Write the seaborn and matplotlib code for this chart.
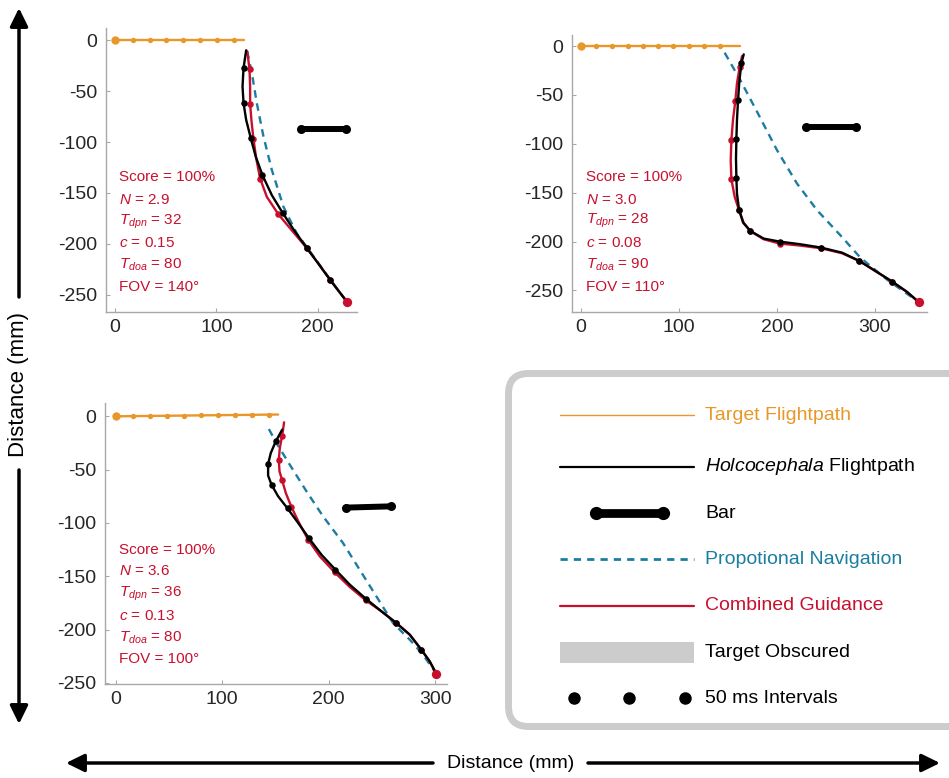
import matplotlib
matplotlib.use("Agg")
import matplotlib.pyplot as plt
import seaborn as sns
from matplotlib.patches import FancyBboxPatch, Rectangle

# ---------------- data ----------------
# Panel 1
p1_tgt_x = [0, 18, 34, 50, 67, 84, 101, 117]
p1_tgt_y = [0, 0, 0, 0, 0, 0, 0, 0]
p1_tgt_line_x = [0, 127]
p1_tgt_line_y = [0, 0]
p1_holo_x = [129.5, 126.9, 125.9, 126.9, 129.5, 134.1, 139.0, 145.6, 154.9, 165.4, 176.9, 189.5, 201.0, 212.5, 229.0]
p1_holo_y = [-9.9, -27.3, -45.4, -61.8, -78.3, -96.4, -114.5, -132.6, -152.3, -169.4, -186.8, -204.3, -219.7, -235.5, -256.9]
p1_holo_dot_x = [126.9, 126.9, 134.1, 145.6, 165.4, 189.5, 212.5]
p1_holo_dot_y = [-27.3, -61.8, -96.4, -132.6, -169.4, -204.3, -235.5]
p1_cg_x = [130.5, 132.8, 133.4, 133.4, 134.8, 136.7, 139.4, 143.3, 149.9, 161.4, 174.6, 189.5, 201.0, 212.5, 229.0]
p1_cg_y = [-10.9, -28.3, -45.4, -62.5, -79.9, -97.0, -116.1, -135.9, -153.9, -171.1, -186.8, -204.3, -219.7, -235.5, -256.9]
p1_cg_dot_x = [132.8, 133.4, 136.7, 143.3, 161.4, 189.5, 212.5]
p1_cg_dot_y = [-28.3, -62.5, -97.0, -135.9, -171.1, -204.3, -235.5]
p1_pn_x = [130.5, 135.1, 140.0, 146.6, 154.9, 166.4, 179.6, 189.5, 202.6, 215.8, 229.0]
p1_pn_y = [-10.9, -32.2, -61.8, -94.7, -127.6, -163.8, -190.1, -203.3, -221.4, -239.5, -256.9]
p1_bar_x = [183.5, 228.3]
p1_bar_y = [-87.5, -87.5]
p1_params = ["Score = 100%", "$N$ = 2.9", "$T_{dpn}$ = 32", "$c$ = 0.15", "$T_{doa}$ = 80", "FOV = 140°"]

# Panel 2
p2_tgt_x = [0, 15.7, 31.7, 47.7, 63.3, 79.0, 94.3, 110.0, 125.6, 141.6]
p2_tgt_y = [0, 0, 0, 0, 0, 0, 0, 0, 0, 0]
p2_tgt_line_x = [0, 162.7]
p2_tgt_line_y = [0, 0]
p2_holo_x = [166.2, 163.8, 161.7, 160.4, 159.3, 158.7, 158.3, 158.7, 159.3, 161.4, 165.5, 173.0, 186.6, 202.9, 224.0, 245.1, 266.6, 284.3, 302.3, 318.0, 333.0, 344.9]
p2_holo_y = [-8.5, -17.7, -36.5, -55.3, -75.8, -95.2, -115.0, -134.8, -150.9, -167.2, -180.5, -189.1, -196.9, -200.0, -202.7, -206.1, -211.3, -219.8, -231.1, -241.0, -251.5, -261.8]
p2_holo_dot_x = [163.8, 160.4, 158.7, 158.7, 161.4, 173.0, 202.9, 245.1, 284.3, 318.0]
p2_holo_dot_y = [-17.7, -55.3, -95.2, -134.8, -167.2, -189.1, -200.0, -206.1, -219.8, -241.0]
p2_cg_x = [164.5, 162.1, 159.3, 157.6, 155.2, 153.6, 152.9, 153.6, 157.0, 161.4, 166.2, 173.0, 186.6, 202.9, 224.0, 245.1, 266.6, 284.3, 302.3, 318.0, 333.0, 344.9]
p2_cg_y = [-10.2, -21.2, -38.2, -56.3, -75.8, -96.2, -116.7, -136.2, -154.3, -167.9, -180.9, -189.4, -197.6, -202.0, -204.1, -206.8, -211.9, -219.8, -231.1, -241.0, -251.5, -261.8]
p2_cg_dot_x = [162.1, 157.6, 153.6, 153.6, 161.4, 173.0, 202.9, 245.1, 284.3, 318.0]
p2_cg_dot_y = [-21.2, -56.3, -96.2, -136.2, -167.9, -189.4, -202.0, -206.8, -219.8, -241.0]
p2_pn_x = [146.7, 162.7, 179.8, 200.2, 220.6, 241.1, 264.9, 285.3, 312.6, 344.9]
p2_pn_y = [-6.8, -34.8, -67.2, -106.5, -140.6, -167.9, -193.5, -216.4, -238.9, -261.8]
p2_bar_x = [229.8, 281.2]
p2_bar_y = [-82.9, -82.9]
p2_params = ["Score = 100%", "$N$ = 3.0", "$T_{dpn}$ = 28", "$c$ = 0.08", "$T_{doa}$ = 90", "FOV = 110°"]

# Panel 3
p3_tgt_x = [0, 16, 32, 48, 64, 80, 96, 112, 128, 144]
p3_tgt_y = [0, 0.2, 0.3, 0.5, 0.7, 0.9, 1.0, 1.2, 1.4, 1.6]
p3_tgt_line_x = [0, 152.5]
p3_tgt_line_y = [0, 1.7]
p3_holo_x = [156.3, 150.3, 145.6, 143.1, 143.1, 146.3, 152.5, 161.3, 171.3, 181.3, 193.1, 206.3, 219.7, 234.7, 249.4, 263.4, 276.0, 286.9, 294.7, 300.9]
p3_holo_y = [-12.5, -23.4, -34.4, -44.7, -55.6, -64.1, -75.0, -86.3, -100.0, -114.1, -129.7, -143.8, -157.8, -170.9, -182.8, -193.8, -204.7, -218.8, -229.7, -241.3]
p3_holo_dot_x = [150.3, 143.1, 146.3, 161.3, 181.3, 206.3, 234.7, 263.4, 286.9]
p3_holo_dot_y = [-23.4, -44.7, -64.1, -86.3, -114.1, -143.8, -170.9, -193.8, -218.8]
p3_cg_x = [158.1, 156.3, 154.1, 153.1, 153.8, 156.3, 159.7, 165.0, 172.2, 180.6, 191.6, 205.6, 219.7, 234.7, 249.4, 263.4, 276.0, 286.9, 294.7, 300.9]
p3_cg_y = [-5.6, -18.1, -29.7, -40.6, -51.6, -60.0, -71.9, -85.0, -100.0, -115.6, -131.3, -146.3, -160.0, -172.5, -182.8, -193.8, -204.7, -218.8, -229.7, -241.3]
p3_cg_dot_x = [156.3, 153.1, 156.3, 165.0, 180.6, 205.6, 234.7, 263.4, 286.9]
p3_cg_dot_y = [-18.1, -40.6, -60.0, -85.0, -115.6, -146.3, -172.5, -193.8, -218.8]
p3_pn_x = [143.8, 150.9, 163.4, 179.1, 194.7, 213.4, 229.0, 244.7, 260.3, 276.0, 288.4, 300.9]
p3_pn_y = [-11.9, -25.0, -45.3, -70.3, -93.8, -118.8, -143.8, -168.8, -193.8, -209.4, -223.4, -241.3]
p3_bar_x = [215.9, 258.8]
p3_bar_y = [-85.6, -84.4]
p3_params = ["Score = 100%", "$N$ = 3.6", "$T_{dpn}$ = 36", "$c$ = 0.13", "$T_{doa}$ = 80", "FOV = 100°"]

x_ticks_p1 = [0, 100, 200]
x_ticks_p23 = [0, 100, 200, 300]
y_ticks = [0, -50, -100, -150, -200, -250]

legend_labels = ["Target Flightpath", r"$\mathit{Holcocephala}$ Flightpath", "Bar",
                 "Propotional Navigation", "Combined Guidance", "Target Obscured", "50 ms Intervals"]
axis_label = "Distance (mm)"

# ---------------- style ----------------
sns.set_theme(style="white")
plt.rcParams["font.family"] = ["Liberation Sans", "DejaVu Sans"]
plt.rcParams["mathtext.fontset"] = "custom"
plt.rcParams["mathtext.rm"] = "Liberation Sans"
plt.rcParams["mathtext.it"] = "Liberation Sans:italic"
plt.rcParams["mathtext.bf"] = "Liberation Sans:bold"

ORANGE = "#E8982A"
RED = "#C8102E"
BLUE = "#1B7DA1"
LGRAY = "#CCCCCC"
SPINE = "#A8A8A8"

W, H = 949, 778
fig = plt.figure(figsize=(W / 100, H / 100), dpi=100)

# overlay for arrows / legend, in pixel units
ov = fig.add_axes([0, 0, 1, 1])
ov.set_xlim(0, W)
ov.set_ylim(H, 0)
ov.axis("off")


def px_axes(l, t, r, b):
    ax = fig.add_axes([l / W, 1 - b / H, (r - l) / W, (b - t) / H])
    ax.set_facecolor("none")
    return ax


def draw_panel(ax, tgt_x, tgt_y, tl_x, tl_y, hx, hy, hdx, hdy, cx, cy, cdx, cdy,
               pnx, pny, bx, by, params, txt_x, txt_ys, xlim, ylim, xticks):
    sns.lineplot(x=pnx, y=pny, sort=False, estimator=None, color=BLUE, lw=1.7,
                 linestyle=(0, (3.2, 2.4)), ax=ax, zorder=2)
    sns.lineplot(x=cx, y=cy, sort=False, estimator=None, color=RED, lw=1.7, ax=ax, zorder=3)
    sns.scatterplot(x=cdx, y=cdy, color=RED, s=22, linewidth=0, ax=ax, zorder=3.5)
    sns.lineplot(x=hx, y=hy, sort=False, estimator=None, color="black", lw=1.7, ax=ax, zorder=4)
    sns.scatterplot(x=hdx, y=hdy, color="black", s=22, linewidth=0, ax=ax, zorder=4.5)
    sns.scatterplot(x=[cx[-1]], y=[cy[-1]], color=RED, s=45, linewidth=0, ax=ax, zorder=6)
    # target
    sns.lineplot(x=tl_x, y=tl_y, sort=False, estimator=None, color=ORANGE, lw=1.7, ax=ax, zorder=3)
    sns.scatterplot(x=tgt_x[1:], y=tgt_y[1:], color=ORANGE, s=15, linewidth=0, ax=ax, zorder=4)
    sns.scatterplot(x=tgt_x[:1], y=tgt_y[:1], color=ORANGE, s=36, linewidth=0, ax=ax, zorder=4)
    # bar
    sns.lineplot(x=bx, y=by, sort=False, estimator=None, color="black", lw=4.3,
                 marker="o", markersize=6.5, markeredgewidth=0, solid_capstyle="round",
                 ax=ax, zorder=5)
    for s, yv in zip(params, txt_ys):
        ax.text(txt_x, yv, s, color=RED, fontsize=11, ha="left", va="center")

    ax.set_xlim(*xlim)
    ax.set_ylim(*ylim)
    ax.set_xticks(xticks)
    ax.set_yticks(y_ticks)
    ax.set_xticklabels([str(v) for v in xticks])
    ax.set_yticklabels([str(v) for v in y_ticks])
    ax.set_xlabel("")
    ax.set_ylabel("")
    for s in ["top", "right"]:
        ax.spines[s].set_visible(False)
    for s in ["left", "bottom"]:
        ax.spines[s].set_color(SPINE)
        ax.spines[s].set_linewidth(1.0)
    ax.tick_params(axis="both", direction="in", length=3, width=0.8, color=SPINE,
                   labelsize=14, labelcolor="#262626", bottom=True, left=True)
    ax.tick_params(axis="y", pad=6.5)
    ax.tick_params(axis="x", pad=5)
    if ax.get_legend() is not None:
        ax.get_legend().remove()


ax1 = px_axes(106, 28, 357, 312)
draw_panel(ax1, p1_tgt_x, p1_tgt_y, p1_tgt_line_x, p1_tgt_line_y,
           p1_holo_x, p1_holo_y, p1_holo_dot_x, p1_holo_dot_y,
           p1_cg_x, p1_cg_y, p1_cg_dot_x, p1_cg_dot_y,
           p1_pn_x, p1_pn_y, p1_bar_x, p1_bar_y, p1_params,
           4, [-134, -157, -178, -199, -221, -242], (-9, 239), (-267, 12), x_ticks_p1)

ax2 = px_axes(572, 35, 927, 312)
draw_panel(ax2, p2_tgt_x, p2_tgt_y, p2_tgt_line_x, p2_tgt_line_y,
           p2_holo_x, p2_holo_y, p2_holo_dot_x, p2_holo_dot_y,
           p2_cg_x, p2_cg_y, p2_cg_dot_x, p2_cg_dot_y,
           p2_pn_x, p2_pn_y, p2_bar_x, p2_bar_y, p2_params,
           4.8, [-133.8, -157.7, -179.1, -201.3, -224.1, -246.3], (-9.2, 353.4), (-272, 11.3), x_ticks_p23)

ax3 = px_axes(105, 403, 447, 684)
draw_panel(ax3, p3_tgt_x, p3_tgt_y, p3_tgt_line_x, p3_tgt_line_y,
           p3_holo_x, p3_holo_y, p3_holo_dot_x, p3_holo_dot_y,
           p3_cg_x, p3_cg_y, p3_cg_dot_x, p3_cg_dot_y,
           p3_pn_x, p3_pn_y, p3_bar_x, p3_bar_y, p3_params,
           3.4, [-125, -145.3, -166.2, -186.8, -207.7, -228], (-10, 311), (-251, 12.5), x_ticks_p23)

# ---------------- axis arrows ----------------
arrow_kw = dict(arrowstyle="-|>,head_length=0.55,head_width=0.27", lw=2.5, color="black",
                shrinkA=0, shrinkB=0, mutation_scale=20)
ov.annotate("", xy=(19, 8), xytext=(19, 297), arrowprops=arrow_kw)
ov.annotate("", xy=(19, 724), xytext=(19, 470), arrowprops=arrow_kw)
ov.text(19, 384, axis_label, rotation=90, ha="center", va="center", fontsize=16, color="black")
ov.annotate("", xy=(66, 763), xytext=(433, 763), arrowprops=arrow_kw)
ov.annotate("", xy=(940, 763), xytext=(588, 763), arrowprops=arrow_kw)
ov.text(511, 763, axis_label, ha="center", va="center", fontsize=14, color="black")

# ---------------- legend box ----------------
box = FancyBboxPatch((508.5, 373.5), 480, 353, boxstyle="round,pad=0,rounding_size=20",
                     lw=5, edgecolor=LGRAY, facecolor="white", clip_on=False, zorder=1)
ov.add_patch(box)
rows = [415, 466.7, 513.3, 559, 605.7, 652.3, 698.3]
lx0, lx1, tx = 560, 694, 705
ov.plot([lx0, lx1], [rows[0]] * 2, color=ORANGE, lw=1.0, zorder=2)
ov.plot([lx0, lx1], [rows[1]] * 2, color="black", lw=1.6, zorder=2)
ov.plot([595.7, 663.3], [rows[2]] * 2, color="black", lw=6.3, marker="o", markersize=9.5,
        markeredgewidth=0, zorder=2)
ov.plot([lx0, lx1], [rows[3]] * 2, color=BLUE, lw=2.0, linestyle=(0, (2.6, 2.2)), zorder=2)
ov.plot([lx0, lx1], [rows[4]] * 2, color=RED, lw=1.6, zorder=2)
ov.add_patch(Rectangle((lx0, 642.3), lx1 - lx0, 20.4, facecolor=LGRAY, edgecolor="none", zorder=2))
ov.plot([574, 629.3, 685], [rows[6]] * 3, linestyle="none", marker="o", color="black",
        markersize=9, markeredgewidth=0, zorder=2)
label_colors = [ORANGE, "black", "black", BLUE, RED, "black", "black"]
for lab, yv, c in zip(legend_labels, rows, label_colors):
    ov.text(tx, yv, lab, color=c, fontsize=14, ha="left", va="center", zorder=3)

fig.savefig("out.png", dpi=100)
